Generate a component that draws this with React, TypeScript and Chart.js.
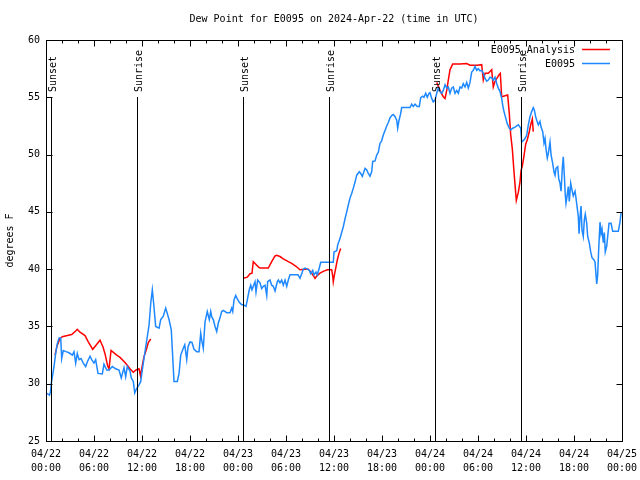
import React, { useEffect, useRef } from 'react';
import { Chart, registerables } from 'chart.js';

Chart.register(...registerables);

const titleText = 'Dew Point for E0095 on 2024-Apr-22 (time in UTC)';
const yAxisTitle = 'degrees F';
const seriesNames = ['E0095_Analysis', 'E0095'];
const seriesColors = ['#ff0000', '#1e88ff'];

const xTickDates = ['04/22', '04/22', '04/22', '04/22', '04/23', '04/23', '04/23', '04/23', '04/24', '04/24', '04/24', '04/24', '04/25'];
const xTickTimes = ['00:00', '06:00', '12:00', '18:00', '00:00', '06:00', '12:00', '18:00', '00:00', '06:00', '12:00', '18:00', '00:00'];
const xMin = 0;
const xMax = 72;
const xMajorStep = 6;
const xMinorStep = 2;
const yTickValues = [25, 30, 35, 40, 45, 50, 55, 60];
const yMin = 25;
const yMax = 60;

const sunHours = [0.63, 11.38, 24.67, 35.42, 48.67, 59.42];
const sunLabels = ['Sunset', 'Sunrise', 'Sunset', 'Sunrise', 'Sunset', 'Sunrise'];
const sunLineTop = 55;

// Observations (E0095): hours since 04/22 00:00 UTC, dew point in F
const obsHours = [
  0.0, 0.25, 0.44, 0.56, 0.66, 1.0, 1.21, 1.41, 1.63, 1.84, 1.96, 2.16, 2.5, 2.88, 3.29, 3.5, 3.71, 3.91, 4.13, 4.38,
  4.66, 4.96, 5.16, 5.5, 5.71, 6.0, 6.21, 6.5, 7.04, 7.25, 7.59, 7.88, 8.29, 8.71, 9.13, 9.41, 9.75, 9.96, 10.16, 10.5,
  10.66, 10.91, 11.09, 11.34, 11.63, 11.84, 12.04, 12.25, 12.46, 12.66, 12.88, 13.09, 13.29, 13.5, 13.71, 14.13, 14.34, 14.66, 14.96, 15.38,
  15.66, 15.79, 16.0, 16.41, 16.63, 16.84, 17.16, 17.34, 17.59, 17.75, 18.0, 18.25, 18.5, 18.84, 19.13, 19.34, 19.46, 19.66, 19.88, 20.16,
  20.41, 20.59, 20.71, 20.91, 21.13, 21.34, 21.54, 21.75, 21.96, 22.16, 22.59, 23.0, 23.21, 23.34, 23.5, 23.71, 23.91, 24.16, 24.46, 24.66,
  25.0, 25.16, 25.41, 25.59, 25.75, 25.91, 26.13, 26.25, 26.46, 26.75, 26.96, 27.16, 27.38, 27.59, 27.71, 28.0, 28.21, 28.41, 28.63, 28.91,
  29.04, 29.25, 29.46, 29.66, 29.88, 30.09, 30.29, 30.5, 31.5, 31.75, 31.96, 32.16, 32.38, 32.66, 32.91, 33.09, 33.34, 33.5, 33.75, 33.91,
  34.16, 34.34, 35.91, 36.0, 36.34, 36.46, 36.66, 36.84, 37.16, 37.38, 37.59, 37.79, 38.0, 38.21, 38.41, 38.63, 38.84, 39.16, 39.34, 39.54,
  39.66, 39.88, 40.09, 40.29, 40.5, 40.71, 40.84, 41.13, 41.34, 41.54, 41.75, 41.96, 42.16, 42.38, 42.59, 42.79, 43.0, 43.21, 43.41, 43.63,
  43.84, 43.96, 44.13, 44.34, 44.46, 45.5, 45.71, 45.91, 46.13, 46.41, 46.66, 46.84, 47.09, 47.25, 47.46, 47.66, 47.88, 48.0, 48.21, 48.41,
  48.63, 48.84, 49.04, 49.25, 49.46, 49.66, 49.88, 50.09, 50.29, 50.5, 50.71, 50.91, 51.13, 51.34, 51.54, 51.75, 51.96, 52.16, 52.38, 52.59,
  52.79, 53.0, 53.21, 53.41, 53.63, 53.84, 54.04, 54.25, 54.46, 54.66, 54.88, 55.09, 55.29, 55.5, 55.71, 55.91, 56.13, 56.34, 56.54, 56.75,
  56.96, 57.09, 57.25, 57.46, 57.66, 57.91, 58.09, 58.34, 58.63, 58.84, 59.04, 59.25, 59.34, 59.46, 59.66, 59.88, 60.09, 60.29, 60.5, 60.71,
  60.91, 61.04, 61.21, 61.34, 61.54, 61.75, 61.88, 62.09, 62.25, 62.38, 62.5, 62.66, 62.79, 63.0, 63.13, 63.34, 63.5, 63.63, 63.75, 63.96,
  64.09, 64.25, 64.38, 64.54, 64.66, 64.79, 64.91, 65.0, 65.16, 65.29, 65.41, 65.59, 65.75, 65.91, 66.13, 66.25, 66.41, 66.54, 66.63, 66.75,
  66.88, 67.0, 67.16, 67.29, 67.41, 67.59, 67.71, 67.91, 68.09, 68.25, 68.5, 68.63, 68.75, 68.84, 68.96, 69.09, 69.25, 69.38, 69.5, 69.66,
  69.79, 69.91, 70.09, 70.21, 70.38, 70.63, 70.84, 71.54, 71.75, 71.88,
];
const obsValues = [
  29.2, 29.1, 29.0, 29.3, 30.0, 31.5, 32.65, 33.5, 34.0, 34.0, 32.2, 32.9, 32.8, 32.7, 32.5, 32.8, 31.8, 32.65, 32.1, 32.2,
  31.8, 31.5, 31.9, 32.4, 32.1, 31.8, 32.1, 30.9, 30.85, 31.7, 31.2, 31.2, 31.5, 31.3, 31.2, 30.5, 31.4, 30.6, 31.5, 31.1,
  30.5, 30.2, 29.2, 29.6, 29.9, 30.2, 31.2, 32.2, 33.2, 34.1, 35.1, 37.0, 38.2, 36.7, 35.0, 34.85, 35.6, 35.9, 36.6, 35.6,
  34.7, 33.0, 30.2, 30.2, 30.9, 32.5, 33.1, 33.4, 32.1, 33.2, 33.65, 33.6, 33.0, 32.8, 32.8, 34.4, 33.8, 33.1, 35.4, 36.3,
  35.6, 36.3, 35.85, 35.6, 35.0, 34.55, 35.3, 35.75, 36.3, 36.4, 36.2, 36.2, 36.6, 36.3, 37.3, 37.7, 37.4, 37.1, 36.9, 36.9,
  36.75, 37.3, 38.2, 38.6, 38.2, 38.5, 38.9, 38.0, 39.05, 38.8, 38.3, 38.5, 38.6, 37.7, 38.9, 39.05, 38.6, 38.5, 38.1, 38.9,
  39.05, 38.8, 39.05, 38.6, 39.05, 38.5, 39.05, 39.5, 39.5, 39.2, 39.6, 40.0, 40.1, 40.0, 39.9, 39.6, 39.9, 39.5, 39.75, 39.5,
  40.1, 40.6, 40.6, 41.5, 41.6, 42.1, 42.5, 42.9, 43.7, 44.4, 45.0, 45.6, 46.2, 46.6, 47.05, 47.6, 48.2, 48.5, 48.35, 48.1,
  48.35, 48.8, 48.65, 48.35, 48.1, 48.5, 49.4, 49.45, 49.95, 50.2, 50.98, 51.2, 51.7, 52.1, 52.5, 52.8, 53.2, 53.4, 53.5, 53.3,
  53.0, 52.3, 53.0, 53.6, 54.1, 54.1, 54.4, 54.2, 54.4, 54.2, 54.2, 54.96, 55.1, 55.0, 55.35, 55.0, 55.35, 55.4, 54.9, 54.6,
  54.75, 55.35, 55.8, 55.5, 55.35, 55.6, 56.1, 55.8, 55.9, 55.35, 55.8, 55.9, 55.35, 55.6, 55.35, 55.9, 55.8, 56.2, 55.9, 56.3,
  55.8, 56.3, 57.2, 57.35, 57.7, 57.35, 57.5, 57.3, 57.35, 57.1, 56.65, 56.4, 56.5, 56.75, 56.7, 56.5, 56.75, 56.2, 55.8, 55.5,
  54.9, 54.3, 53.75, 53.2, 52.7, 52.3, 52.15, 52.3, 52.4, 52.5, 52.6, 52.4, 52.3, 51.1, 51.2, 51.4, 51.7, 52.6, 53.3, 53.75,
  54.1, 53.9, 53.3, 53.0, 52.6, 52.9, 52.4, 52.0, 51.0, 51.4, 50.5, 49.7, 50.1, 51.1, 50.0, 49.2, 48.5, 48.2, 48.8, 48.95,
  47.9, 47.5, 46.8, 48.8, 49.8, 48.2, 46.5, 45.75, 46.5, 47.2, 45.9, 47.5, 46.9, 46.4, 46.8, 46.2, 45.3, 44.6, 43.1, 44.5,
  45.5, 43.4, 42.85, 44.3, 44.8, 44.0, 42.85, 42.3, 41.5, 41.0, 40.8, 40.6, 39.5, 38.7, 39.5, 41.8, 44.1, 43.1, 43.5, 42.3,
  43.2, 41.5, 42.0, 42.85, 44.0, 44.0, 43.3, 43.3, 44.1, 44.9,
];

// Analysis (E0095_Analysis): null marks a gap between runs
const anaHours = [
  1.13, 1.38, 1.75, 2.04, 2.66, 3.21, 3.71, 3.91, 4.25, 4.88, 5.25, 5.84, 6.25, 6.75, 7.13, 7.38, 7.71, 7.88, 8.13, 8.84,
  9.25, 9.88, 10.5, 10.91, 11.25, 11.63, 11.81, 12.04, 12.25, 12.59, 12.79, 13.09,
  18.0,
  24.66, 25.16, 25.5, 25.75, 25.91, 26.13, 26.54, 26.75, 27.79, 28.21, 28.63, 28.84, 29.25, 29.66, 30.29, 30.71, 31.25, 31.75,
  32.38, 32.79, 33.21, 33.63, 33.84, 34.25, 34.66, 35.16, 35.71, 35.84, 35.91, 36.09, 36.25, 36.41, 36.63, 36.84,
  42.0,
  48.84, 49.38, 49.66, 49.88, 50.09, 50.29, 50.5, 50.84, 51.75, 52.59, 53.0, 53.91, 54.46, 54.66, 54.88, 55.29, 55.71, 55.91,
  56.13, 56.66, 56.79, 56.96, 57.71, 57.91, 58.09, 58.29, 58.5, 58.63, 58.79, 59.04, 59.25, 59.38, 59.54, 59.75, 59.96, 60.16,
  60.38, 60.59, 60.79, 60.91,
];
const anaValues = [
  32.5, 33.3, 33.95, 34.1, 34.2, 34.3, 34.6, 34.75, 34.5, 34.2, 33.7, 33.0, 33.35, 33.8, 33.2, 32.6, 31.55, 31.3, 32.9, 32.5,
  32.3, 31.85, 31.3, 31.0, 31.2, 31.3, 30.7, 31.6, 32.35, 33.1, 33.6, 33.9,
  null,
  39.2, 39.3, 39.6, 39.65, 40.65, 40.5, 40.2, 40.1, 40.1, 40.65, 41.15, 41.2, 41.1, 40.9, 40.65, 40.5, 40.25, 39.95,
  40.0, 40.0, 39.65, 39.2, 39.4, 39.65, 39.8, 39.95, 39.95, 39.4, 38.9, 39.65, 40.2, 40.8, 41.4, 41.8,
  null,
  56.3, 55.4, 55.05, 54.9, 55.6, 56.5, 57.4, 57.9, 57.9, 57.95, 57.8, 57.8, 57.85, 56.5, 57.1, 57.1, 57.4, 55.9,
  56.4, 57.0, 57.1, 55.05, 55.2, 53.6, 51.7, 50.5, 48.5, 47.35, 46.0, 46.7, 47.6, 48.6, 49.0, 49.9, 50.9, 51.3,
  51.9, 52.6, 53.1, 52.0,
];

const FONT = '"DejaVu Sans Mono", "Liberation Mono", monospace';

const decorPlugin = {
  id: 'gnuplotDecor',
  afterDatasetsDraw(chart: any) {
    const { ctx, chartArea: a, scales } = chart;
    const x = scales.x;
    const y = scales.y;
    ctx.save();
    ctx.strokeStyle = '#000';
    ctx.fillStyle = '#000';
    ctx.lineWidth = 1;
    ctx.font = `10px ${FONT}`;

    // sunrise / sunset markers
    sunHours.forEach((h, i) => {
      const px = Math.round(x.getPixelForValue(h)) + 0.5;
      const top = Math.round(y.getPixelForValue(sunLineTop));
      ctx.beginPath();
      ctx.moveTo(px, a.bottom);
      ctx.lineTo(px, top);
      ctx.stroke();
      ctx.save();
      ctx.translate(px + 1.5, top - 5);
      ctx.rotate(-Math.PI / 2);
      ctx.textAlign = 'left';
      ctx.textBaseline = 'middle';
      ctx.fillText(sunLabels[i], 0, 0);
      ctx.restore();
    });

    // frame
    const L = Math.round(a.left) + 0.5;
    const R = Math.round(a.right) + 0.5;
    const T = Math.round(a.top) + 0.5;
    const B = Math.round(a.bottom) + 0.5;
    ctx.strokeRect(L, T, R - L, B - T);

    // x ticks (inward, bottom and top)
    ctx.beginPath();
    for (let h = xMin; h <= xMax + 1e-6; h += xMinorStep) {
      const px = Math.round(x.getPixelForValue(h)) + 0.5;
      const len = Math.abs(h % xMajorStep) < 1e-6 ? 6 : 3;
      ctx.moveTo(px, B);
      ctx.lineTo(px, B - len);
      ctx.moveTo(px, T);
      ctx.lineTo(px, T + len);
    }
    // y ticks (inward, left and right)
    yTickValues.forEach((v) => {
      const py = Math.round(y.getPixelForValue(v)) + 0.5;
      ctx.moveTo(L, py);
      ctx.lineTo(L + 6, py);
      ctx.moveTo(R, py);
      ctx.lineTo(R - 6, py);
    });
    ctx.stroke();

    // x tick labels
    ctx.fillStyle = '#000';
    ctx.textAlign = 'center';
    ctx.textBaseline = 'middle';
    xTickDates.forEach((d, i) => {
      const px = x.getPixelForValue(xMin + i * xMajorStep);
      ctx.fillText(d, px, a.bottom + 13);
      ctx.fillText(xTickTimes[i], px, a.bottom + 27);
    });

    // y tick labels
    ctx.textAlign = 'right';
    yTickValues.forEach((v) => {
      const py = y.getPixelForValue(v);
      ctx.fillText(String(v), a.left - 6, py);
    });

    // legend
    ctx.textAlign = 'right';
    ctx.textBaseline = 'middle';
    seriesNames.forEach((name, i) => {
      const ly = Math.round(a.top) + 10 + i * 14;
      ctx.fillStyle = '#000';
      ctx.fillText(name, a.right - 47, ly);
      ctx.strokeStyle = seriesColors[i];
      ctx.lineWidth = 1.5;
      ctx.beginPath();
      ctx.moveTo(a.right - 40, ly - 0.5);
      ctx.lineTo(a.right - 12, ly - 0.5);
      ctx.stroke();
    });

    // title
    ctx.fillStyle = '#000';
    ctx.textAlign = 'center';
    ctx.textBaseline = 'middle';
    ctx.fillText(titleText, (a.left + a.right) / 2, 19);

    // y-axis title
    ctx.save();
    ctx.translate(10, (a.top + a.bottom) / 2);
    ctx.rotate(-Math.PI / 2);
    ctx.textAlign = 'center';
    ctx.textBaseline = 'middle';
    ctx.fillText(yAxisTitle, 0, 0);
    ctx.restore();

    ctx.restore();
  },
};

export default function App() {
  const canvasRef = useRef<HTMLCanvasElement | null>(null);

  useEffect(() => {
    const canvas = canvasRef.current;
    if (!canvas) return;
    const obsData = obsHours.map((h, i) => ({ x: h, y: obsValues[i] }));
    const anaData = anaHours.map((h, i) => ({ x: h, y: anaValues[i] }));
    const chart = new Chart(canvas, {
      type: 'line',
      data: {
        datasets: [
          {
            label: seriesNames[0],
            data: anaData,
            borderColor: seriesColors[0],
            borderWidth: 1.5,
            pointRadius: 0,
            tension: 0,
            spanGaps: false,
            order: 1,
          },
          {
            label: seriesNames[1],
            data: obsData,
            borderColor: seriesColors[1],
            borderWidth: 1.5,
            pointRadius: 0,
            tension: 0,
            order: 0,
          },
        ],
      },
      options: {
        animation: false,
        responsive: false,
        maintainAspectRatio: false,
        events: [],
        layout: { padding: { top: 40, right: 18, left: 46, bottom: 39 } },
        plugins: {
          legend: { display: false },
          title: { display: false },
          tooltip: { enabled: false },
        },
        scales: {
          x: {
            type: 'linear',
            display: false,
            min: xMin,
            max: xMax,
          },
          y: {
            type: 'linear',
            display: false,
            min: yMin,
            max: yMax,
          },
        },
      },
      plugins: [decorPlugin],
    });
    return () => chart.destroy();
  }, []);

  return (
    <div style={{ position: 'fixed', left: 0, top: 0, width: 640, height: 480, background: '#fff' }}>
      <canvas ref={canvasRef} width={640} height={480} style={{ display: 'block' }} />
    </div>
  );
}
